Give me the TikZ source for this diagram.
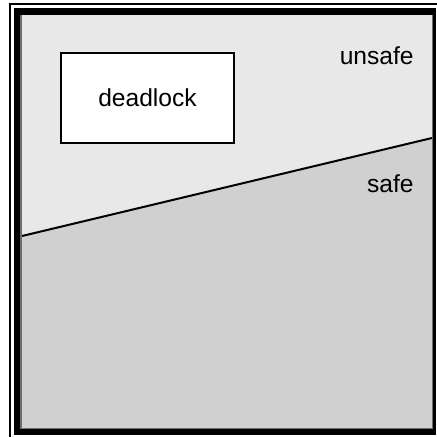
\documentclass[tikz,border=0pt]{standalone}
\usepackage{fontspec}
\setmainfont{Liberation Sans}
\definecolor{unsafegray}{RGB}{232,232,232}
\definecolor{safegray}{RGB}{208,208,208}
\definecolor{edgegray}{RGB}{110,110,110}
\begin{document}
\begin{tikzpicture}[x=0.5pt, y=-0.5pt, every node/.style={font=\fontsize{12.3}{14}\selectfont}]
    \useasboundingbox (0,0) rectangle (437,437);

    % frame
    \draw[line width=1pt] (10,437) -- (10,4.5) -- (437,4.5);
    \fill[black] (14,8) rectangle (436,435);

    % unsafe and safe regions
    \coordinate (lineL) at (22,236);
    \coordinate (lineR) at (432,138);
    \fill[unsafegray] (22,15) rectangle (432,428);
    \fill[safegray] (lineL) -- (lineR) -- (432,428) -- (22,428) -- cycle;
    \draw[edgegray, line width=0.6pt] (21,15) -- (21,428.5) -- (432.5,428.5) -- (432.5,15);
    \draw[line width=1pt] (lineL) -- (lineR);

    \node[draw, line width=1pt, fill=white, minimum width=86.5pt, minimum height=45pt] (deadlock) at (147.5,98) {deadlock};
    \node[anchor=base east, inner sep=0pt] (unsafe) at (414,65) {unsafe};
    \node[anchor=base east, inner sep=0pt] (safe) at (414,193) {safe};
\end{tikzpicture}
\end{document}
